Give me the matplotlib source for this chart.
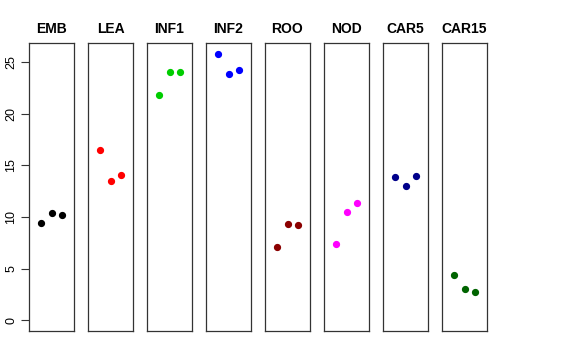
import matplotlib
matplotlib.use("Agg")
import matplotlib.pyplot as plt

plt.rcParams['font.family'] = ['Liberation Sans', 'DejaVu Sans']

tissues = ["EMB", "LEA", "INF1", "INF2", "ROO", "NOD", "CAR5", "CAR15"]
colors = ["#000000", "#FF0000", "#00CD00", "#0000FF",
          "#8B0000", "#FF00FF", "#00008B", "#006400"]
replicates = [1, 2, 3]
values = [
    [9.46, 10.43, 10.20],
    [16.50, 13.50, 14.08],
    [21.86, 24.06, 24.03],
    [25.83, 23.84, 24.25],
    [7.10, 9.36, 9.23],
    [7.42, 10.46, 11.37],
    [13.86, 12.98, 13.98],
    [4.36, 3.03, 2.77],
]
yticks = [0, 5, 10, 15, 20, 25]

W, H = 576, 360
fig = plt.figure(figsize=(W / 100, H / 100), dpi=100)

# ylim as R would do: 0..max, padded by 4%
ymax = max(max(v) for v in values)
pad = 0.04 * ymax
ylim = (0 - pad, ymax + pad)

left0, step, pw = 29, 59, 45
top, bottom = 43, 331
for i, (name, col, vals) in enumerate(zip(tissues, colors, values)):
    ax = fig.add_axes([(left0 + step * i) / W, (H - bottom) / H,
                       pw / W, (bottom - top) / H])
    ax.plot(replicates, vals, 'o', color=col, ms=4.2, mec=col)
    ax.set_xlim(-0.16, 4.16)
    ax.set_ylim(*ylim)
    ax.set_xticks([])
    for sp in ax.spines.values():
        sp.set_linewidth(0.9)
        sp.set_color("#333333")
    if i == 0:
        ax.set_yticks(yticks)
        ax.set_yticklabels([str(t) for t in yticks], rotation=90, va='center',
                           fontsize=9)
        ax.tick_params(axis='y', length=5.5, width=0.8, pad=3, color="#333333")
    else:
        ax.set_yticks([])
    ax.text(0.5, 1 + 14 / (bottom - top), name, transform=ax.transAxes,
            ha='center', va='center', fontsize=10, fontweight='bold')

fig.savefig("out.png", dpi=100)
